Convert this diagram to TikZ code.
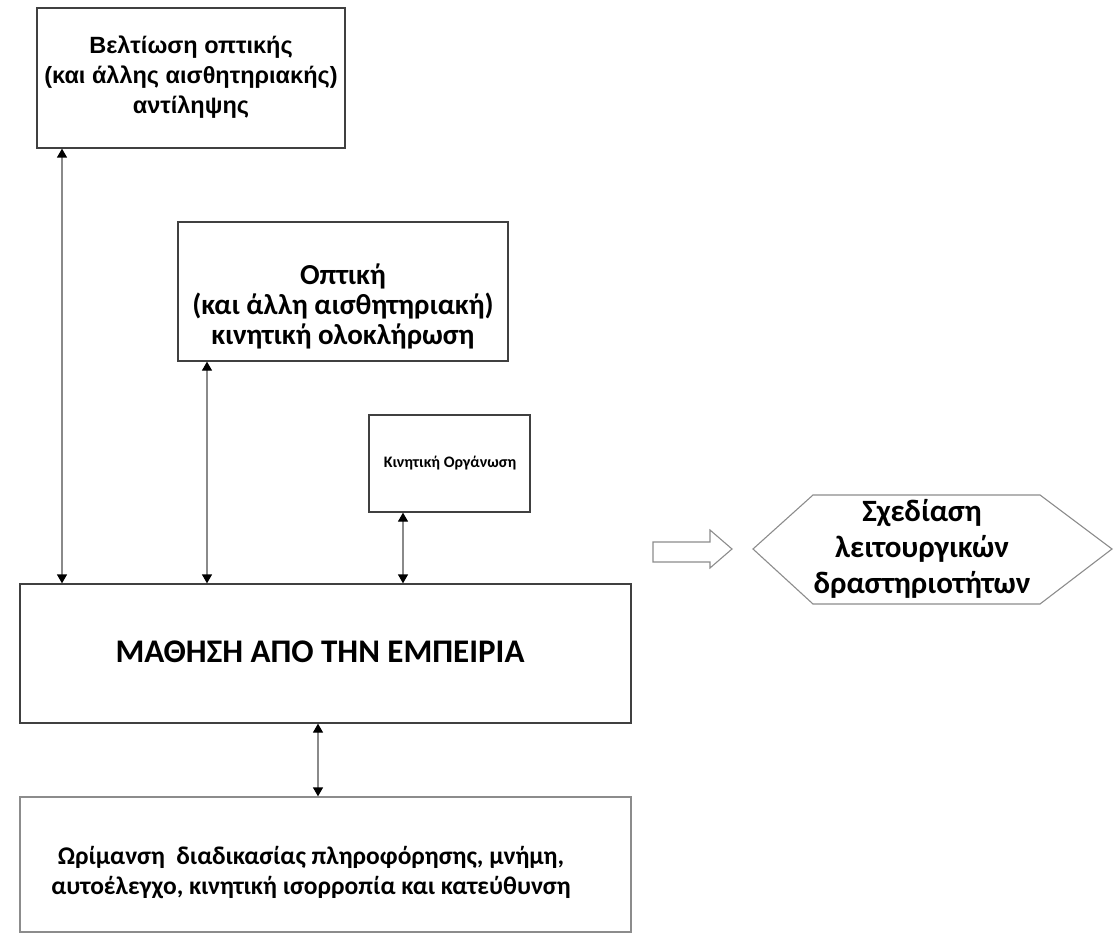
\documentclass[tikz,border=0pt]{standalone}
\usepackage{fontspec}
\usetikzlibrary{arrows.meta}
\newfontfamily\arialfont{Liberation Sans}
\newfontfamily\calfont{Carlito}
\begin{document}
\begin{tikzpicture}[x=1pt,y=-1pt,
  box/.style={draw=boxcol,line width=1.3pt,inner sep=0pt,minimum width=#1},
  txt/.style={align=center,inner sep=0pt,text=black},
  conn/.style={draw=conncol,line width=1.3pt,{Triangle[width=10pt,length=9pt,black]}-{Triangle[width=10pt,length=9pt,black]}},
  shapecol/.style={draw=graycol,line width=1.1pt}
]
\definecolor{boxcol}{HTML}{404040}
\definecolor{conncol}{HTML}{8A8A8A}
\definecolor{graycol}{HTML}{8C8C8C}
\useasboundingbox (0,0) rectangle (1114,933);
% boxes
\node[box=308pt,minimum height=140pt] (top) at (191,78) {};
\node[txt,font=\arialfont\bfseries\fontsize{23.5}{30}\selectfont] (toptxt) at (191,77.5)
  {Βελτίωση οπτικής\\(και άλλης αισθητηριακής)\\αντίληψης};
\node[box=330pt,minimum height=139pt] (opt) at (343,291.5) {};
\node[txt,font=\calfont\bfseries\fontsize{29}{30}\selectfont] (opttxt) at (343,306)
  {Οπτική\\(και άλλη αισθητηριακή)\\κινητική ολοκλήρωση};
\node[box=161pt,minimum height=97pt] (kin) at (449.5,463.5) {};
\node[txt,font=\calfont\bfseries\fontsize{16}{22}\selectfont] (kintxt) at (450,463)
  {Κινητική Οργάνωση};
\node[box=611pt,minimum height=139pt] (main) at (325.5,653.5) {};
\node[txt,font=\calfont\bfseries\fontsize{33}{38}\selectfont] (maintxt) at (320,652)
  {ΜΑΘΗΣΗ ΑΠΟ ΤΗΝ ΕΜΠΕΙΡΙΑ};
\node[box=611pt,minimum height=135pt,draw=graycol] (bot) at (325.5,864.5) {};
\node[txt,font=\calfont\bfseries\fontsize{25.5}{30}\selectfont] (bottxt) at (311,873)
  {Ωρίμανση\ \ διαδικασίας πληροφόρησης, μνήμη,\\αυτοέλεγχο, κινητική ισορροπία και κατεύθυνση};
% block arrow
\draw[shapecol] (653,542) -- (710,542) -- (710,530) -- (732,549) -- (710,568) -- (710,562) -- (653,562) -- cycle;
% hexagon
\draw[shapecol] (753,549) -- (813,495) -- (1040,495) -- (1112,549) -- (1040,604) -- (813,604) -- cycle;
\node[txt,font=\calfont\bfseries\fontsize{31}{36}\selectfont] (hex) at (922,549)
  {Σχεδίαση\\λειτουργικών\\δραστηριοτήτων};
% connectors
\coordinate (c1) at (62,0);
\coordinate (c2) at (207,0);
\coordinate (c3) at (403,0);
\coordinate (c4) at (318,0);
\draw[conn] (c1 |- top.south) -- (c1 |- main.north);
\draw[conn] (c2 |- opt.south) -- (c2 |- main.north);
\draw[conn] (c3 |- kin.south) -- (c3 |- main.north);
\draw[conn] (c4 |- main.south) -- (c4 |- bot.north);
\end{tikzpicture}
\end{document}
